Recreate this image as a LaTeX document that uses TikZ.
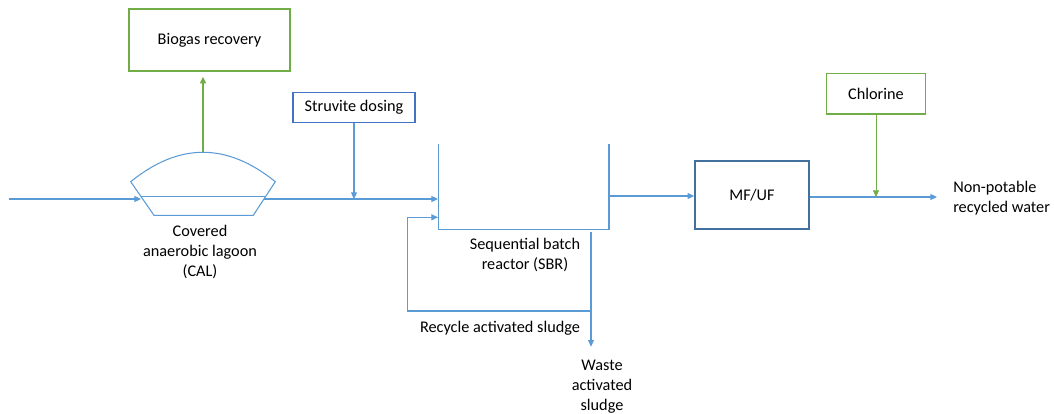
\documentclass[tikz,border=0pt]{standalone}
\usepackage{fontspec}
\setmainfont{Carlito}
\usetikzlibrary{arrows.meta}
\definecolor{flowblue}{HTML}{5B9BD5}
\definecolor{gasgreen}{HTML}{70AD47}
\definecolor{dosblue}{HTML}{4472C4}
\definecolor{unitblue}{HTML}{41719C}
\begin{document}
\begin{tikzpicture}[x=0.75pt,y=-0.75pt,
  font=\fontsize{12.2}{15}\selectfont,
  pipe/.style={draw=flowblue,line width=0.8pt},
  flow/.style={pipe,-{Triangle[width=4.5pt,length=5pt]}},
  gas/.style={draw=gasgreen,-{Triangle[width=4.5pt,length=5pt]}},
  unit/.style={draw=#1,line width=1pt,inner sep=0pt,align=center},
  label/.style={align=center,inner sep=0pt}]
  \useasboundingbox (0,0) rectangle (1054,414);
  % boxes
  \node[unit=gasgreen,minimum width=120.75pt,minimum height=46.5pt] (biogas) at (209.5,40) {Biogas recovery};
  \node[unit=dosblue,minimum width=91.7pt,minimum height=22.2pt] (struvite) at (354,107.5) {Struvite dosing};
  \node[unit=unitblue,line width=1.2pt,minimum width=85.5pt,minimum height=51pt] (mfuf) at (752,195) {MF/UF};
  \node[unit=gasgreen,minimum width=74pt,minimum height=30.5pt] (chlorine) at (876,93.7) {Chlorine};
  % covered anaerobic lagoon
  \coordinate (cal-l) at (130.7,181.7);
  \coordinate (cal-r) at (275.3,181.7);
  \coordinate (cal-top) at (203,152);
  \coordinate (cal-in) at (141,199);
  \coordinate (cal-out) at (264,199);
  \draw[pipe] (cal-l) .. controls (179,142.5) and (227,142.5) .. (cal-r)
    -- (253.3,215.3) -- (154,215.3) -- cycle;
  \draw[pipe] (141.1,196.7) -- (265.5,196.7);
  % sequential batch reactor
  \coordinate (sbr-tl) at (438.7,144);
  \coordinate (sbr-bl) at (438.7,229.3);
  \coordinate (sbr-br) at (609,229.3);
  \coordinate (sbr-tr) at (609,144);
  \draw[pipe] (sbr-tl) -- (sbr-bl) -- (sbr-br) -- (sbr-tr);
  \coordinate (sbr-in) at (438,199);
  \coordinate (sbr-ret) at (438,217.3);
  \coordinate (sbr-out) at (609,196);
  % flows
  \coordinate (feed) at (9,199);
  \coordinate (dose) at (354,199);
  \coordinate (was-top) at (591,231.7);
  \coordinate (ras) at (591,311);
  \coordinate (was) at (591,346.7);
  \coordinate (cl-in) at (876,197);
  \coordinate (product) at (937,197);
  \draw[flow] (feed) -- (cal-in);
  \draw[flow] (cal-out) -- (sbr-in);
  \draw[flow] (struvite) -- (dose);
  \draw[flow] (ras) -- (407.3,311) -- (407.3,217.3) -- (sbr-ret);
  \draw[flow] (was-top) -- (was);
  \draw[flow] (sbr-out) -- (mfuf.west |- sbr-out);
  \draw[flow] (mfuf.east |- product) -- (product);
  \draw[gas] (chlorine) -- (cl-in);
  \draw[gas,line width=1.2pt] (cal-top) -- ([yshift=-3.75pt]biogas.south -| cal-top);
  % labels
  \node[label] (cal-label) at (200,252) {Covered\\anaerobic lagoon\\(CAL)};
  \node[label] (sbr-label) at (525,255) {Sequential batch\\reactor (SBR)};
  \node[label] (ras-label) at (500,328) {Recycle activated sludge};
  \node[label] (was-label) at (602,387) {Waste\\activated\\sludge};
  \node[label,align=left,anchor=west] (product-label) at (953,198) {Non-potable\\recycled water};
\end{tikzpicture}
\end{document}
